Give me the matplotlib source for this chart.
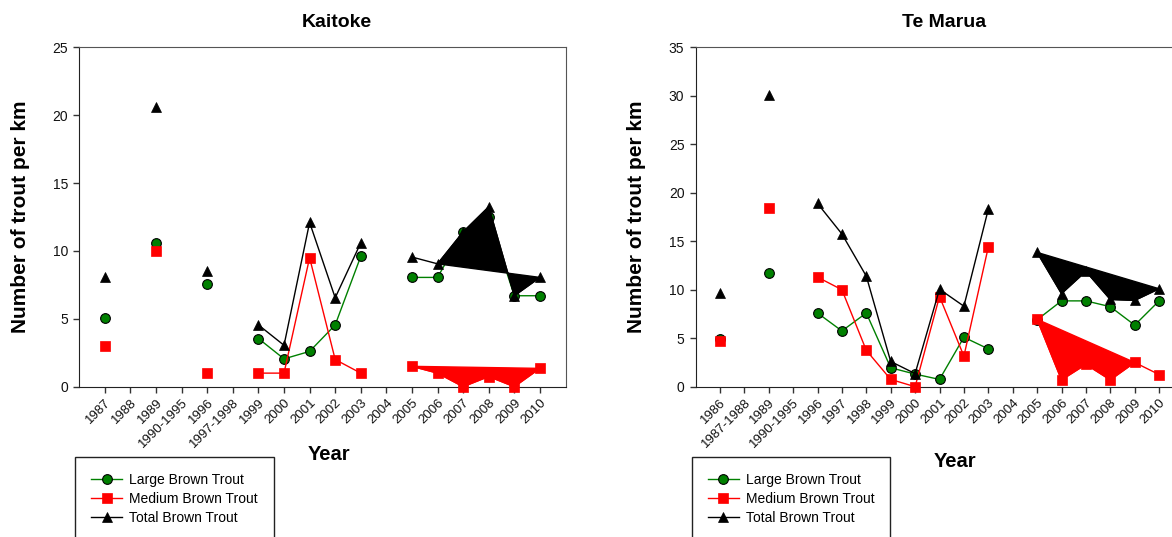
import numpy as np
import matplotlib.pyplot as plt

plt.rcParams['font.family'] = ['Liberation Sans', 'DejaVu Sans']

nan = np.nan

# Kaitoke
KAI_YEARS = ["1987", "1988", "1989", "1990-1995", "1996", "1997-1998", "1999", "2000", "2001",
             "2002", "2003", "2004", "2005", "2006", "2007", "2008", "2009", "2010"]
KAI_LARGE = [5.05, nan, 10.6, nan, 7.55, nan, 3.55, 2.05, 2.6, 4.55, 9.6, nan,
             8.05, 8.05, 11.4, 12.5, 6.7, 6.7]
KAI_MEDIUM = [3.0, nan, 10.0, nan, 1.0, nan, 1.0, 1.0, 9.5, 2.0, 1.0, nan,
              1.5, 1.0, 0.0, 0.75, 0.0, 1.35]
KAI_TOTAL = [8.05, nan, 20.6, nan, 8.55, nan, 4.55, 3.05, 12.1, 6.55, 10.6, nan,
             9.55, 9.05, 11.4, 13.25, 6.7, 8.05]
# runs of points that came out as filled polygons in the original
KAI_FILLS = {"total": ("2006", "2010"), "medium": ("2005", "2010")}

# Te Marua
TEM_YEARS = ["1986", "1987-1988", "1989", "1990-1995", "1996", "1997", "1998", "1999", "2000",
             "2001", "2002", "2003", "2004", "2005", "2006", "2007", "2008", "2009", "2010"]
TEM_LARGE = [4.9, nan, 11.75, nan, 7.6, 5.75, 7.6, 1.95, 1.3, 0.75, 5.1, 3.9, nan,
             6.9, 8.85, 8.85, 8.25, 6.35, 8.85]
TEM_MEDIUM = [4.75, nan, 18.45, nan, 11.3, 10.0, 3.75, 0.75, 0.0, 9.3, 3.15, 14.4, nan,
              6.95, 0.7, 2.3, 0.7, 2.5, 1.25]
TEM_TOTAL = [9.65, nan, 30.1, nan, 18.9, 15.75, 11.4, 2.6, 1.35, 10.05, 8.3, 18.3, nan,
             13.85, 9.6, 11.9, 9.0, 8.9, 10.1]
TEM_FILLS = {"total": ("2005", "2010"), "medium": ("2005", "2009")}

STYLES = {
    "large": dict(color="#008000", marker="o", mfc="#008000", mec="black", ms=7, mew=0.8,
                  label="Large Brown Trout"),
    "medium": dict(color="#ff0000", marker="s", mfc="#ff0000", mec="#ff0000", ms=6.5, mew=0.5,
                   label="Medium Brown Trout"),
    "total": dict(color="black", marker="^", mfc="black", mec="black", ms=7.5, mew=0.5,
                  label="Total Brown Trout"),
}

W, H = 1172, 537


def draw_panel(ax, years, series, fills, ymax, title, title_x, xlab_xy):
    x = np.arange(len(years))
    handles = []
    for z, key in enumerate(["large", "medium", "total"]):
        y = np.array(series[key], dtype=float)
        st = STYLES[key]
        if key in fills:
            a = years.index(fills[key][0])
            b = years.index(fills[key][1]) + 1
            ax.fill(x[a:b], y[a:b], fc=st["color"], ec=st["color"], lw=1, zorder=2 + z)
        line, = ax.plot(x, y, lw=1, clip_on=False, zorder=2 + z, **st)
        handles.append(line)

    ax.set_xlim(-1, len(years))
    ax.set_ylim(0, ymax)
    ax.set_yticks(np.arange(0, ymax + 1, 5))
    ax.set_xticks(x)
    ax.set_xticklabels(years, rotation=45, ha="right", va="top", rotation_mode="anchor")
    ax.tick_params(axis="x", direction="out", length=4, width=1, pad=3, labelsize=9.5,
                   color="#333333", labelcolor="#111111")
    ax.tick_params(axis="y", direction="out", length=4, width=1, pad=4, labelsize=10,
                   color="#333333", labelcolor="#111111")
    for side in ["left", "bottom"]:
        ax.spines[side].set_color("#222222")
    for side in ["top", "right"]:
        ax.spines[side].set_color("#555555")

    ax.set_title(title, fontsize=14, fontweight="bold", x=title_x, y=1.073, va="center", pad=0)
    ax.set_xlabel("Year", fontsize=14.5, fontweight="bold", va="center")
    ax.xaxis.set_label_coords(*xlab_xy)
    ax.set_ylabel("Number of trout per km", fontsize=15, fontweight="bold", va="center")
    ax.yaxis.set_label_coords(-0.121, 0.5)
    return handles


fig = plt.figure(figsize=(W / 100, H / 100), dpi=100)

ax1 = fig.add_axes([79.3 / W, 1 - 386.7 / H, 486.2 / W, 339.4 / H])
h1 = draw_panel(ax1, KAI_YEARS,
                {"large": KAI_LARGE, "medium": KAI_MEDIUM, "total": KAI_TOTAL},
                KAI_FILLS, 25, "Kaitoke", 0.53, (0.513, -0.201))

ax2 = fig.add_axes([695.5 / W, 1 - 386.7 / H, 488 / W, 339.4 / H])
h2 = draw_panel(ax2, TEM_YEARS,
                {"large": TEM_LARGE, "medium": TEM_MEDIUM, "total": TEM_TOTAL},
                TEM_FILLS, 35, "Te Marua", 0.509, (0.532, -0.219))

for handles, x0 in [(h1, 75), (h2, 691.7)]:
    leg = fig.legend(handles=handles, loc="upper left", bbox_to_anchor=(x0 / W, 1 - 457 / H),
                     bbox_transform=fig.transFigure, borderaxespad=0, fontsize=10,
                     borderpad=1.15, labelspacing=0.36, handlelength=2.25, handletextpad=0.5,
                     frameon=True, fancybox=False, framealpha=1)
    leg.get_frame().set_edgecolor("#222222")
    leg.get_frame().set_linewidth(1)

fig.savefig("out.png", dpi=100)
